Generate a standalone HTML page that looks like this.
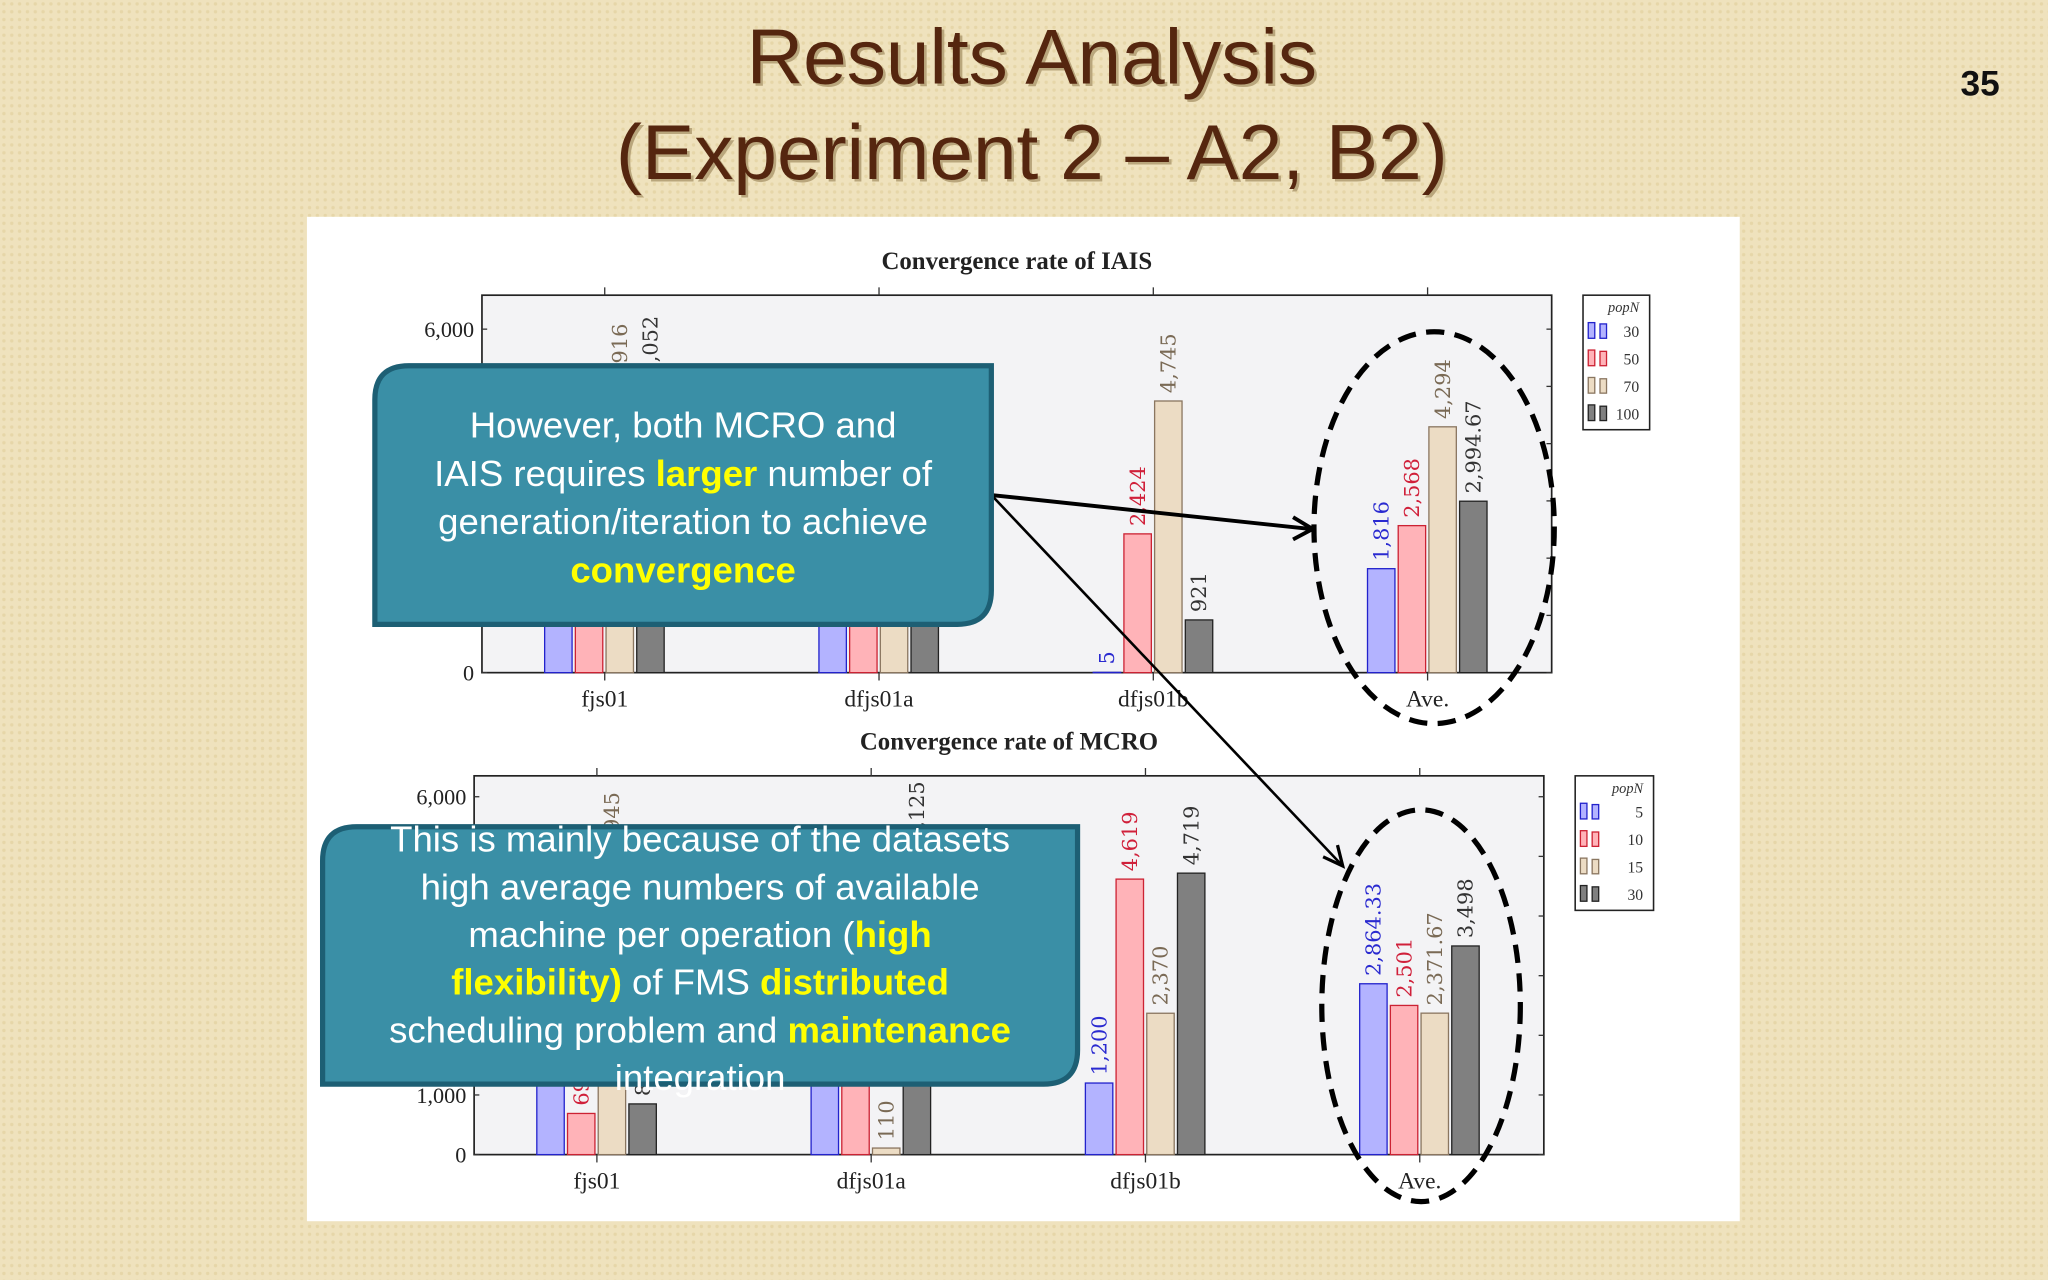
<!DOCTYPE html>
<html><head><meta charset="utf-8">
<style>
html,body{margin:0;padding:0;width:2048px;height:1280px;overflow:hidden;background:#efe2bd;}
#stage{position:absolute;left:0;top:0;width:1568px;height:980px;transform:scale(1.306122);transform-origin:0 0;}
svg{display:block}
</style></head>
<body>
<div id="stage">
<svg id="svg" width="1568" height="980" viewBox="0 0 1568 980" xmlns="http://www.w3.org/2000/svg">
<defs>
<pattern id="bgp" width="6" height="6" patternUnits="userSpaceOnUse">
<rect width="6" height="6" fill="#efe2bd"/><circle cx="3" cy="3" r="1.3" fill="#e6d6a8"/>
</pattern>
</defs>
<rect width="1568" height="980" fill="url(#bgp)"/>
<g font-family="Liberation Sans, sans-serif" font-size="60" text-anchor="middle">
<text x="792" y="66" fill="#b9a67c">Results Analysis</text>
<text x="790" y="64" fill="#55260f">Results Analysis</text>
<text x="792" y="139" fill="#b9a67c">(Experiment 2 – A2, B2)</text>
<text x="790" y="137" fill="#55260f">(Experiment 2 – A2, B2)</text>
</g>
<text x="1516" y="73" text-anchor="middle" font-family="Liberation Sans, sans-serif" font-size="27" font-weight="bold" fill="#111">35</text>
<rect x="235" y="166" width="1097" height="769" fill="#fff"/>
<g id="charts"></g>
<g id="overlay"></g>
</svg>
</div>
<script>
const categories = ["fjs01","dfjs01a","dfjs01b","Ave."];
const yTicks = [0,1000,2000,3000,4000,5000,6000];
const iaisSeriesNames = ["30","50","70","100"];
const iaisPop30 = [3000, 1000, 5, 1816];
const iaisPop50 = [3500, 1200, 2424, 2568];
const iaisPop70 = [4916, 1500, 4745, 4294];
const iaisPop100 = [5052, 1300, 921, 2994.67];
const iaisLabels30 = ["3,000","1,000","5","1,816"];
const iaisLabels50 = ["3,500","1,200","2,424","2,568"];
const iaisLabels70 = ["4,916","1,500","4,745","4,294"];
const iaisLabels100 = ["5,052","1,300","921","2,994.67"];
const mcroSeriesNames = ["5","10","15","30"];
const mcroPop5 = [2600, 2600, 1200, 2864.33];
const mcroPop10 = [690, 2300, 4619, 2501];
const mcroPop15 = [4945, 110, 2370, 2371.67];
const mcroPop30 = [850, 5125, 4719, 3498];
const mcroLabels5 = ["2,600","2,600","1,200","2,864.33"];
const mcroLabels10 = ["690","2,300","4,619","2,501"];
const mcroLabels15 = ["4,945","110","2,370","2,371.67"];
const mcroLabels30 = ["850","5,125","4,719","3,498"];

const NS="http://www.w3.org/2000/svg";
const fills=["#b3b3ff","#ffb3b8","#ecdcc4","#808080"];
const strokes=["#2222cc","#cc2233","#8a7660","#222"];
const txtc=["#2a2ad0","#d0203a","#7a6a55","#333"];
function el(tag,attrs,parent){const e=document.createElementNS(NS,tag);for(const k in attrs)e.setAttribute(k,attrs[k]);parent.appendChild(e);return e;}

function drawChart(cfg){
  const g=el("g",{},document.getElementById("charts"));
  
  
  const {x0,x1,yTop,yZero,ySix}=cfg;
  const yScale=v=>yZero-(v/6000)*(yZero-ySix);
  const xCenter=i=>x0+94+210*i;
  const bg=el("rect",{x:x0,y:yTop,width:x1-x0,height:yZero-yTop,fill:"#f3f3f5",stroke:"#222","stroke-width":1.3},g);
  
  
  const t=el("text",{x:(x0+x1)/2,y:yTop-20,"text-anchor":"middle","font-family":"Liberation Serif, serif","font-size":19,"font-weight":"bold",fill:"#222"},g);
  t.textContent=cfg.title;
  
  
  yTicks.forEach(v=>{
    const y=yScale(v);
    el("line",{x1:x0,x2:x0+4,y1:y,y2:y,stroke:"#333"},g);
    el("line",{x1:x1-4,x2:x1,y1:y,y2:y,stroke:"#333"},g);
    if(v===0||v===6000||(cfg.showK&&v===1000)){
      const lt=el("text",{x:x0-6,y:y+6,"text-anchor":"end","font-family":"Liberation Serif, serif","font-size":17,fill:"#222"},g);
      lt.textContent=v.toLocaleString("en-US");
      
      
    }
  });
  categories.forEach((c,i)=>{
    const cx=xCenter(i);
    el("line",{x1:cx,x2:cx,y1:yTop-6,y2:yTop,stroke:"#333"},g);
    el("line",{x1:cx,x2:cx,y1:yZero,y2:yZero+6,stroke:"#333"},g);
    const ct=el("text",{x:cx,y:yZero+26,"text-anchor":"middle","font-family":"Liberation Serif, serif","font-size":18,fill:"#222"},g);
    ct.textContent=c;
    
    
  });
  cfg.series.forEach((vals,s)=>{
    vals.forEach((v,i)=>{
      const bx=xCenter(i)-46+s*23.5;
      const y=yScale(v);
      const r=el("rect",{x:bx,y:y,width:21,height:yZero-y,fill:fills[s],stroke:strokes[s],"stroke-width":1},g);
      
      
      const lx=bx+16, ly=y-6;
      const lt=el("text",{x:lx,y:ly,transform:"rotate(-90 "+lx+" "+ly+")","font-family":"DejaVu Serif, Liberation Serif, serif","font-size":16,fill:txtc[s]},g);
      lt.textContent=cfg.labels[s][i];
      
      
    });
  });
  const lg=el("g",{},g);
  
  
  const lx=cfg.legX, ly=yTop;
  el("rect",{x:lx,y:ly,width:cfg.legW,height:103,fill:"#fff",stroke:"#222","stroke-width":1.2},lg);
  const lh=el("text",{x:lx+cfg.legW-8,y:ly+13,"text-anchor":"end","font-family":"Liberation Serif, serif","font-style":"italic","font-size":11,fill:"#333"},lg);
  lh.textContent="popN";
  cfg.names.forEach((n,s)=>{
    const yy=ly+21+s*21;
    el("rect",{x:lx+4,y:yy,width:5,height:12,fill:fills[s],stroke:strokes[s]},lg);
    el("rect",{x:lx+13,y:yy+1,width:5,height:11,fill:fills[s],stroke:strokes[s]},lg);
    const e=el("text",{x:lx+cfg.legW-8,y:yy+11,"text-anchor":"end","font-family":"Liberation Serif, serif","font-size":12,fill:"#333"},lg);
    e.textContent=n;
    
    
  });
}

drawChart({name:"iais-chart",title:"Convergence rate of IAIS",x0:369,x1:1188,yTop:226,yZero:515,ySix:252,legX:1212,legW:51,showK:false,
  names:iaisSeriesNames,series:[iaisPop30,iaisPop50,iaisPop70,iaisPop100],labels:[iaisLabels30,iaisLabels50,iaisLabels70,iaisLabels100]});
drawChart({name:"mcro-chart",title:"Convergence rate of MCRO",x0:363,x1:1182,yTop:594,yZero:884,ySix:610,legX:1206,legW:60,showK:true,
  names:mcroSeriesNames,series:[mcroPop5,mcroPop10,mcroPop15,mcroPop30],labels:[mcroLabels5,mcroLabels10,mcroLabels15,mcroLabels30]});

const ov=document.getElementById("overlay");
const e1=el("ellipse",{cx:1098,cy:404,rx:92,ry:150,fill:"none",stroke:"#000","stroke-width":4,"stroke-dasharray":"14 8"},ov);


const e2=el("ellipse",{cx:1088,cy:770,rx:76,ry:150,fill:"none",stroke:"#000","stroke-width":4,"stroke-dasharray":"14 8"},ov);


const a1=el("line",{x1:759,y1:379,x2:1003,y2:405,stroke:"#000","stroke-width":3},ov);


el("path",{d:"M990 396 L1005 405 L990 413",fill:"none",stroke:"#000","stroke-width":3},ov);
const a2=el("line",{x1:759,y1:379,x2:1027,y2:662,stroke:"#000","stroke-width":2},ov);


el("path",{d:"M1013 656 L1028 663 L1024 647",fill:"none",stroke:"#000","stroke-width":2.5},ov);

function callout(x,y,w,h,name,lines,fs,lh,ty){
  const g=el("g",{},ov);
  
  
  const r=26;
  el("path",{d:`M${x+r} ${y} H${x+w} V${y+h-r} Q${x+w} ${y+h} ${x+w-r} ${y+h} H${x} V${y+r} Q${x} ${y} ${x+r} ${y} Z`,fill:"#3a8fa6",stroke:"#1d5f74","stroke-width":4},g);
  lines.forEach((ln,i)=>{
    const t=el("text",{x:x+w/2,y:ty+i*lh,"text-anchor":"middle","font-family":"Liberation Sans, sans-serif","font-size":fs,fill:"#fff"},g);
    ln.forEach(p=>{
      const sp=el("tspan",{},t);
      if(p[1]){sp.setAttribute("fill","#ffff00");sp.setAttribute("font-weight","bold");}
      sp.textContent=p[0];
    });
  });
}
callout(287,280,472,198,"callout-iais",[
  [["However, both MCRO and",0]],
  [["IAIS requires ",0],["larger",1],[" number of",0]],
  [["generation/iteration to achieve",0]],
  [["convergence",1]]],28,37,335);
callout(247,633,578,197,"callout-mcro",[
  [["This is mainly because of the datasets",0]],
  [["high average numbers of available",0]],
  [["machine per operation (",0],["high",1]],
  [["flexibility)",1],[" of FMS ",0],["distributed",1]],
  [["scheduling problem and ",0],["maintenance",1]],
  [["integration",0]]],28,36.5,652);
</script>
</body></html>
